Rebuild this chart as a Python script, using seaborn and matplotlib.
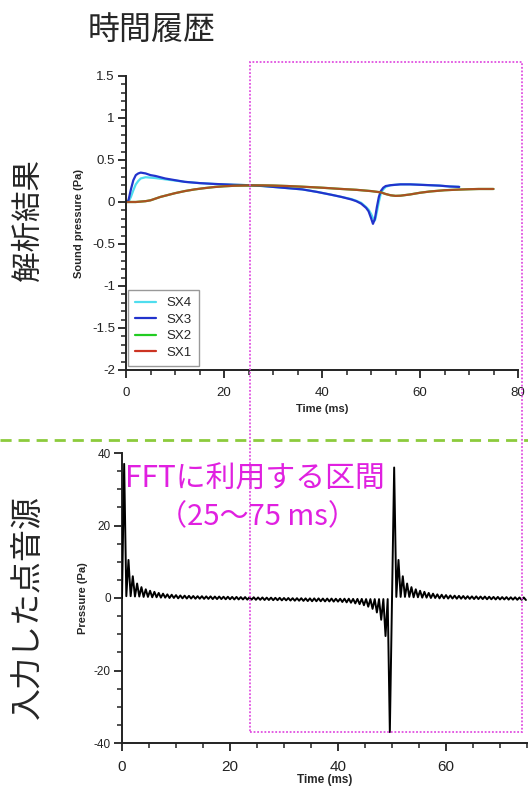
import numpy as np
import pandas as pd
import seaborn as sns
import matplotlib.pyplot as plt
from matplotlib.patches import Rectangle
from matplotlib.lines import Line2D
from matplotlib.ticker import MultipleLocator

# --- data: analysis result (top) ---
t_sx34 = [0, 0.5, 1, 1.5, 2, 2.5, 3, 4, 5, 6, 8, 10, 12, 15, 18, 20, 22, 25, 28, 30,
          33, 36, 39, 42, 44, 46, 47, 48, 49, 49.5, 50, 50.4, 50.8, 51.2, 51.6, 52,
          52.5, 53, 54, 56, 58, 60, 62, 64, 66, 68]
p_sx3 = [0, 0.02, 0.15, 0.26, 0.32, 0.34, 0.35, 0.34, 0.32, 0.31, 0.28, 0.26, 0.24, 0.225,
         0.215, 0.21, 0.205, 0.2, 0.19, 0.18, 0.165, 0.15, 0.12, 0.085, 0.06, 0.03, 0.01,
         -0.02, -0.07, -0.11, -0.19, -0.26, -0.2, -0.06, 0.06, 0.13, 0.17, 0.19, 0.2, 0.21,
         0.21, 0.205, 0.2, 0.195, 0.185, 0.18]
p_sx4 = [0, 0.0, 0.06, 0.14, 0.21, 0.25, 0.28, 0.295, 0.29, 0.285, 0.27, 0.255, 0.24, 0.225,
         0.215, 0.21, 0.205, 0.2, 0.19, 0.18, 0.165, 0.15, 0.12, 0.085, 0.06, 0.035, 0.015,
         -0.01, -0.06, -0.09, -0.14, -0.19, -0.22, -0.12, 0.0, 0.1, 0.15, 0.18, 0.2, 0.21,
         0.21, 0.205, 0.2, 0.195, 0.185, 0.18]
t_sx12 = [0, 2, 3, 4, 5, 6, 7, 8, 10, 12, 14, 16, 18, 20, 22, 25, 28, 30, 33, 36, 40, 44,
          47, 50, 52, 53, 54, 55, 56, 58, 60, 62, 65, 68, 70, 72, 75]
p_sx12 = [0, 0, 0.005, 0.01, 0.02, 0.04, 0.06, 0.075, 0.105, 0.13, 0.15, 0.165, 0.178,
          0.187, 0.193, 0.197, 0.198, 0.196, 0.19, 0.182, 0.17, 0.155, 0.145, 0.13, 0.115,
          0.095, 0.08, 0.073, 0.075, 0.09, 0.11, 0.125, 0.14, 0.148, 0.152, 0.155, 0.155]
series_order = ["SX4", "SX3", "SX2", "SX1"]
series_colors = {"SX4": "#4FDDEE", "SX3": "#2233CC", "SX2": "#22CC22", "SX1": "#CC3322"}

# --- data: input point source (bottom), sampled every 0.4 ms ---
src_dt = 0.4
src_p = [
    0, 37, 0.5, 10.5, 0.5, 6.0, 0.4, 4.0, 0.4, 3.0,
    0.3, 2.4, 0.3, 2.0, 0.2, 1.7, 0.2, 1.4, 0.1, 1.2,
    0.1, 1.0, 0.0, 0.9, 0.0, 0.8, -0.1, 0.7, -0.1, 0.65,
    -0.15, 0.6, -0.15, 0.55, -0.2, 0.5, -0.2, 0.5, -0.25, 0.45,
    -0.25, 0.45, -0.3, 0.4, -0.3, 0.4, -0.3, 0.35, -0.35, 0.35,
    -0.35, 0.3, -0.4, 0.3, -0.4, 0.25, -0.4, 0.25, -0.45, 0.2,
    -0.45, 0.2, -0.5, 0.15, -0.5, 0.15, -0.55, 0.1, -0.55, 0.1,
    -0.6, 0.05, -0.6, 0.05, -0.65, 0.0, -0.65, 0.0, -0.7, -0.05,
    -0.75, -0.05, -0.75, -0.05, -0.8, -0.1, -0.85, -0.1, -0.9, -0.1,
    -0.9, -0.1, -0.9, -0.15, -0.95, -0.15, -0.95, -0.15, -1.0, -0.2,
    -1.0, -0.2, -1.1, -0.2, -1.2, -0.2, -1.3, -0.25, -1.5, -0.25,
    -1.7, -0.25, -2.0, -0.3, -2.4, -0.3, -3.0, -0.3, -4.0, -0.3,
    -6.0, -0.3, -10.5, -0.3, -37, 0, 36, 0.3, 10.5, 0.3,
    6.0, 0.3, 4.0, 0.3, 3.0, 0.2, 2.4, 0.2, 2.0, 0.1,
    1.7, 0.1, 1.4, 0.0, 1.2, 0.0, 1.0, -0.1, 0.9, -0.1,
    0.8, -0.15, 0.7, -0.15, 0.65, -0.2, 0.6, -0.2, 0.55, -0.25,
    0.5, -0.25, 0.45, -0.3, 0.45, -0.3, 0.4, -0.3, 0.4, -0.35,
    0.35, -0.35, 0.3, -0.4, 0.3, -0.4, 0.25, -0.4, 0.25, -0.45,
    0.2, -0.45, 0.2, -0.5, 0.15, -0.5, 0.15, -0.55,
]
src_t = np.arange(len(src_p)) * src_dt

# long-form table for the top plot
top_df = pd.concat([
    pd.DataFrame({"Time": t_sx34, "P": p_sx4, "series": "SX4"}),
    pd.DataFrame({"Time": t_sx34, "P": p_sx3, "series": "SX3"}),
    pd.DataFrame({"Time": t_sx12, "P": p_sx12, "series": "SX2"}),
    pd.DataFrame({"Time": t_sx12, "P": p_sx12, "series": "SX1"}),
], ignore_index=True)

sns.set_theme(style="ticks")
plt.rcParams["font.family"] = ["Liberation Sans", "Noto Sans CJK JP", "DejaVu Sans"]
plt.rcParams["axes.linewidth"] = 1.4
plt.rcParams["axes.unicode_minus"] = False
jp = ["Noto Sans CJK JP", "DejaVu Sans"]

W, H = 528, 787
fig = plt.figure(figsize=(W / 100, H / 100), dpi=100)


def fx(x):
    return x / W


def fy(y):
    return 1 - y / H


ax_top = fig.add_axes([fx(126), fy(370), (518 - 126) / W, (370 - 76) / H])
ax_bot = fig.add_axes([fx(122), fy(743), (527 - 122) / W, (743 - 453) / H])

# 解析結果
for s in series_order:
    d = top_df[top_df["series"] == s]
    sns.lineplot(data=d, x="Time", y="P", ax=ax_top, color=series_colors[s],
                 lw=1.6, sort=False, estimator=None,
                 alpha=0.8 if s == "SX1" else 1.0)
ax_top.set_xlim(0, 80)
ax_top.set_ylim(-2, 1.5)
ax_top.xaxis.set_major_locator(MultipleLocator(20))
ax_top.xaxis.set_minor_locator(MultipleLocator(5))
ax_top.yaxis.set_major_locator(MultipleLocator(0.5))
ax_top.yaxis.set_minor_locator(MultipleLocator(0.1))
ax_top.set_yticklabels([f"{v:g}" for v in ax_top.get_yticks()])
ax_top.set_xlabel("Time (ms)", fontsize=8, fontweight="bold", labelpad=4)
ax_top.set_ylabel("Sound pressure (Pa)", fontsize=8, fontweight="bold", labelpad=6)
ax_top.tick_params(axis="both", which="major", labelsize=9.5, length=6, width=1.3,
                   colors="#222222", pad=2)
ax_top.tick_params(axis="x", which="major", pad=6)
ax_top.tick_params(axis="both", which="minor", length=3.5, width=1.1, colors="#222222")
handles = [Line2D([], [], color=series_colors[s], lw=1.6) for s in series_order]
leg = ax_top.legend(handles, series_order, loc="lower left",
                    bbox_to_anchor=(fx(128), fy(366)), bbox_transform=fig.transFigure,
                    fontsize=9.5, frameon=True, fancybox=False, borderaxespad=0,
                    borderpad=0.55, labelspacing=0.32, handlelength=1.6,
                    handletextpad=0.75)
leg.get_frame().set_edgecolor("#808080")
leg.get_frame().set_linewidth(1.0)

# 入力した点音源
sns.lineplot(x=src_t, y=src_p, ax=ax_bot, color="black", lw=1.4, zorder=3,
             sort=False, estimator=None)
ax_bot.set_xlim(0, 75)
ax_bot.set_ylim(-40, 40)
ax_bot.xaxis.set_major_locator(MultipleLocator(20))
ax_bot.xaxis.set_minor_locator(MultipleLocator(5))
ax_bot.yaxis.set_major_locator(MultipleLocator(20))
ax_bot.yaxis.set_minor_locator(MultipleLocator(5))
ax_bot.set_xlabel("Time (ms)", fontsize=8.5, fontweight="bold", labelpad=0)
ax_bot.set_ylabel("Pressure (Pa)", fontsize=8, fontweight="bold", labelpad=4)
ax_bot.tick_params(axis="y", which="major", labelsize=8.5, length=6, width=1.3,
                   colors="#222222", pad=2)
ax_bot.tick_params(axis="x", which="major", labelsize=11, length=6, width=1.3,
                   colors="#222222", pad=6)
ax_bot.tick_params(axis="both", which="minor", length=3.5, width=1.1, colors="#222222")

for ax in (ax_top, ax_bot):
    sns.despine(ax=ax)
    ax.spines["left"].set_color("#222222")
    ax.spines["bottom"].set_color("#222222")
    ax.set_facecolor("none")

# FFT区間 annotation, drawn under the signal line
ax_bot.text(fx(255), fy(479), "FFTに利用する区間", transform=fig.transFigure,
            ha="center", va="center", fontsize=21.5, color="#E020E0", family=jp, zorder=1)
ax_bot.text(fx(257), fy(517), "（25〜75 ms）", transform=fig.transFigure,
            ha="center", va="center", fontsize=21, color="#E020E0", family=jp, zorder=1)

# frame of the FFT interval and the green separator
fig.patches.append(Rectangle((fx(250), fy(732)), (522 - 250) / W, (732 - 62) / H,
                             transform=fig.transFigure, fill=False, ls=(0, (1, 1)),
                             lw=1.3, ec="#E050E0"))
fig.add_artist(Line2D([0, 1], [fy(440), fy(440)], transform=fig.transFigure,
                      color="#8CCB3C", lw=2.0, ls=(0, (4, 2.5))))

# headings
fig.text(fx(152), fy(30), "時間履歴", ha="center", va="center", fontsize=23, family=jp)
fig.text(fx(28), fy(220), "解析結果", ha="center", va="center", fontsize=22,
         rotation=90, family=jp)
fig.text(fx(28), fy(607), "入力した点音源", ha="center", va="center", fontsize=23,
         rotation=90, family=jp)

fig.savefig("out.png", dpi=100)
